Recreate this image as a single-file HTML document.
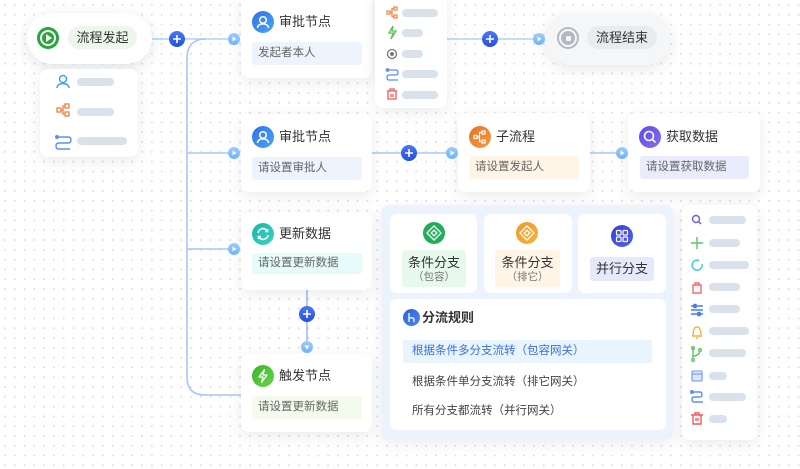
<!DOCTYPE html>
<html><head><meta charset="utf-8">
<style>
*{margin:0;padding:0;box-sizing:border-box}
html,body{width:800px;height:469px;overflow:hidden}
body{position:relative;background:#fff;background-image:radial-gradient(circle,#dcdee1 0.8px,transparent 1.1px);background-size:9.8px 9.8px;background-position:0px 0px;font-family:"Liberation Sans","Noto Sans CJK SC",sans-serif;color:#333}
.abs{position:absolute}
.card{position:absolute;background:#fff;border-radius:8px;box-shadow:0 4px 14px rgba(30,40,60,0.09)}
.ic{position:absolute;width:22px;height:22px;border-radius:50%}
.ttl{position:absolute;font-size:13px;color:#333;line-height:16px;white-space:nowrap}
.inp{position:absolute;border-radius:3px;font-size:11.5px;color:#666;line-height:23px;padding-left:6px;white-space:nowrap}
.bar{position:absolute;height:8px;border-radius:4px;background:#d9e2ea}
svg{position:absolute;left:0;top:0}
</style></head><body>

<svg width="800" height="469" style="z-index:1">
 <g fill="none" stroke-width="1.6">
  <path d="M150,39 H234" stroke="#a9d5fb"/>
  <path d="M206,39 C193,39 187,46 187,58 V377 Q187,395 205,395 H241" stroke="#a9c3fb"/>
  <path d="M187,153 H234" stroke="#a9c8fb"/>
  <path d="M187,249 H234" stroke="#a9c3fb"/>
  <path d="M447,39 H540" stroke="#a9d5fb"/>
  <path d="M372,153 H452" stroke="#a9c8fb"/>
  <path d="M590,153 H622" stroke="#a9c8fb"/>
  <path d="M307,290 V347" stroke="#a6b8fb"/>
 </g>
</svg>

<!-- start pill -->
<div class="card" style="left:27px;top:13px;width:125px;height:51px;border-radius:26px;box-shadow:0 4px 14px rgba(30,40,60,0.12);z-index:2">
  <div class="ic" style="left:10px;top:14px;background:#25a83a"></div>
  <div class="abs" style="left:13px;top:17px;width:16px;height:16px;border:2px solid #fff;border-radius:50%"></div>
  <div class="abs" style="left:19px;top:21px;width:0;height:0;border-left:6px solid #fff;border-top:4px solid transparent;border-bottom:4px solid transparent"></div>
  <div class="abs" style="left:41px;top:13px;width:69px;height:23px;border-radius:12px;background:#ecf6ea;font-size:13px;line-height:23px;text-align:center;color:#333">流程发起</div>
</div>
<!-- start menu -->
<div class="card" style="left:40px;top:69px;width:98px;height:88px;z-index:2">
  <svg width="98" height="88" style="position:absolute">
   <g fill="none" stroke-width="1.4">
    <circle cx="23" cy="10" r="3.5" stroke="#37a3f5"/><path d="M17,19 C17,13 29,13 29,19" stroke="#37a3f5"/>
    <g stroke="#f0884a"><rect x="17" y="39" width="4" height="4"/><rect x="25" y="35" width="4" height="4"/><rect x="25" y="43" width="4" height="4"/><path d="M21,41 H23 V37 H25 M23,41 V45 H25"/></g>
    <g stroke="#5a8ff5"><path d="M18,68 H28 Q31,68 31,71 Q31,74 28,74 H19 Q16,74 16,77 Q16,80 19,80 H30"/><circle cx="17" cy="68" r="1.3" fill="#5a8ff5"/></g>
   </g>
  </svg>
  <div class="bar" style="left:37px;top:9px;width:37px"></div>
  <div class="bar" style="left:37px;top:39px;width:37px"></div>
  <div class="bar" style="left:37px;top:68px;width:50px"></div>
</div>

<!-- card 1 -->
<div class="card" style="left:241px;top:-8px;width:131px;height:86px;z-index:2">
  <div class="ic" style="left:11px;top:19px;background:linear-gradient(135deg,#2f6fe8,#4aa6f6)"></div>
  <svg width="22" height="22" style="left:11px;top:19px"><g fill="none" stroke="#fff" stroke-width="1.5"><circle cx="11" cy="9" r="3.3"/><path d="M5.5,17 C5.5,11.5 16.5,11.5 16.5,17"/></g></svg>
  <div class="ttl" style="left:38px;top:22px">审批节点</div>
  <div class="inp" style="left:11px;top:50px;width:110px;background:#edf4fe">发起者本人</div>
</div>
<!-- card 2 -->
<div class="card" style="left:241px;top:114px;width:131px;height:78px;z-index:2">
  <div class="ic" style="left:11px;top:12px;background:linear-gradient(135deg,#2f6fe8,#4aa6f6)"></div>
  <svg width="22" height="22" style="left:11px;top:12px"><g fill="none" stroke="#fff" stroke-width="1.5"><circle cx="11" cy="9" r="3.3"/><path d="M5.5,17 C5.5,11.5 16.5,11.5 16.5,17"/></g></svg>
  <div class="ttl" style="left:38px;top:15px">审批节点</div>
  <div class="inp" style="left:11px;top:43px;width:110px;background:#edf4fe">请设置审批人</div>
</div>

<!-- top middle menu -->
<div class="card" style="left:375px;top:-8px;width:72px;height:116px;z-index:2">
  <svg width="72" height="116" style="position:absolute">
   <g fill="none" stroke-width="1.3" transform="translate(0,8)">
    <g stroke="#f0884a"><rect x="12" y="11" width="3" height="3"/><rect x="19" y="7" width="3" height="3"/><rect x="19" y="15" width="3" height="3"/><path d="M15,12.5 H17 V8.5 H19 M17,12.5 V16.5 H19"/></g>
    <path d="M18,26 L14,33 H18 L16,39 L21,31 H17 Z" stroke="#58c45a"/>
    <g stroke="#777"><circle cx="17" cy="54" r="4.5"/><circle cx="17" cy="54" r="1.3" fill="#777"/></g>
    <g stroke="#5a8ff5"><path d="M13,70 H21 Q23,70 23,72.5 Q23,75 21,75 H14 Q12,75 12,77.5 Q12,80 14,80 H23"/><circle cx="12.5" cy="70" r="1.2" fill="#5a8ff5"/></g>
    <g stroke="#ef5b5b"><path d="M12,91 H22 M15,91 V89 H19 V91 M13,91 V99 H21 V91 M16,94 V97 M18,94 V97"/></g>
   </g>
  </svg>
  <div class="bar" style="left:27px;top:17px;width:36px"></div>
  <div class="bar" style="left:27px;top:37px;width:21px"></div>
  <div class="bar" style="left:27px;top:58px;width:21px"></div>
  <div class="bar" style="left:27px;top:78px;width:36px"></div>
  <div class="bar" style="left:27px;top:99px;width:36px"></div>
</div>

<!-- end pill -->
<div class="card" style="left:545px;top:13px;width:126px;height:52px;border-radius:26px;background:#f4f6f8;box-shadow:0 4px 14px rgba(30,40,60,0.10);z-index:2">
  <div class="abs" style="left:12px;top:14px;width:22px;height:22px;border-radius:50%;border:2.5px solid #b4b9c0"></div>
  <div class="abs" style="left:16px;top:18px;width:14px;height:14px;border-radius:50%;background:#b4b9c0"></div>
  <div class="abs" style="left:20.5px;top:22.5px;width:5px;height:5px;background:#f4f6f8;border-radius:1px"></div>
  <div class="abs" style="left:42px;top:13px;width:70px;height:23px;border-radius:12px;background:#e8ebef;font-size:13px;line-height:23px;text-align:center;color:#333">流程结束</div>
</div>

<!-- 子流程 -->
<div class="card" style="left:458px;top:113px;width:132px;height:79px;z-index:2">
  <div class="ic" style="left:11px;top:13px;background:linear-gradient(135deg,#e8732a,#f39a3e)"></div>
  <svg width="22" height="22" style="left:11px;top:13px"><g fill="none" stroke="#fff" stroke-width="1.2"><rect x="5" y="9.5" width="3" height="3"/><rect x="13" y="5" width="3" height="3"/><rect x="13" y="14" width="3" height="3"/><path d="M8,11 H10.5 V6.5 H13 M10.5,11 V15.5 H13"/></g></svg>
  <div class="ttl" style="left:38px;top:16px">子流程</div>
  <div class="inp" style="left:11px;top:43px;width:110px;background:#fff4e6">请设置发起人</div>
</div>
<!-- 获取数据 -->
<div class="card" style="left:628px;top:113px;width:132px;height:79px;z-index:2">
  <div class="ic" style="left:11px;top:13px;background:linear-gradient(135deg,#5a4be6,#8a6cf0)"></div>
  <svg width="22" height="22" style="left:11px;top:13px"><g fill="none" stroke="#fff" stroke-width="1.6"><circle cx="10" cy="10" r="4.5"/><path d="M13.3,13.3 L16.5,16.5"/></g></svg>
  <div class="ttl" style="left:38px;top:16px">获取数据</div>
  <div class="inp" style="left:12px;top:43px;width:109px;background:#e9ecfd">请设置获取数据</div>
</div>

<!-- 更新数据 -->
<div class="card" style="left:241px;top:212px;width:131px;height:78px;z-index:2">
  <div class="ic" style="left:11px;top:11px;background:linear-gradient(135deg,#16b6a6,#3ed2c0)"></div>
  <svg width="22" height="22" style="left:11px;top:11px"><g fill="none" stroke="#fff" stroke-width="1.6"><path d="M6,10 A5,5 0 0 1 15.5,8.5"/><path d="M16,12 A5,5 0 0 1 6.5,13.5"/><path d="M15.5,6 V8.5 H13"/><path d="M6.5,16 V13.5 H9"/></g></svg>
  <div class="ttl" style="left:38px;top:14px">更新数据</div>
  <div class="inp" style="left:11px;top:41px;width:110px;height:21px;line-height:21px;background:#e8fbfb">请设置更新数据</div>
</div>
<!-- 触发节点 -->
<div class="card" style="left:241px;top:354px;width:131px;height:78px;z-index:2">
  <div class="ic" style="left:11px;top:11px;background:linear-gradient(135deg,#3ab526,#6bd24a)"></div>
  <svg width="22" height="22" style="left:11px;top:11px"><path d="M12.5,4.5 L7,12 H11 L9.5,17.5 L15,10 H11 Z" fill="none" stroke="#fff" stroke-width="1.3" stroke-linejoin="round"/></svg>
  <div class="ttl" style="left:38px;top:14px">触发节点</div>
  <div class="inp" style="left:11px;top:42px;width:110px;background:#f2fbec">请设置更新数据</div>
</div>

<!-- big panel -->
<div class="abs" style="left:381px;top:205px;width:292px;height:235px;background:#edf3fd;border-radius:8px;box-shadow:0 4px 14px rgba(30,40,60,0.08);z-index:2">
  <div class="abs" style="left:9px;top:9px;width:87px;height:79px;background:#fff;border-radius:7px">
    <div class="ic" style="left:33px;top:8px;background:#1fae5a"></div>
    <svg width="22" height="22" style="left:33px;top:8px"><g fill="none" stroke="#fff" stroke-width="1.3"><rect x="6" y="6" width="10" height="10" transform="rotate(45 11 11)"/><rect x="9" y="9" width="4" height="4" transform="rotate(45 11 11)"/></g></svg>
    <div class="abs" style="left:12px;top:36px;width:64px;height:37px;background:#e6f9ec;border-radius:3px;text-align:center">
      <div style="font-size:13px;line-height:15px;margin-top:5px;color:#333">条件分支</div>
      <div style="font-size:10.5px;line-height:14px;color:#777">（包容）</div>
    </div>
  </div>
  <div class="abs" style="left:103px;top:9px;width:88px;height:79px;background:#fff;border-radius:7px">
    <div class="ic" style="left:32px;top:8px;background:linear-gradient(135deg,#ef9a23,#f5b23b)"></div>
    <svg width="22" height="22" style="left:32px;top:8px"><g fill="none" stroke="#fff" stroke-width="1.3"><rect x="6" y="6" width="10" height="10" transform="rotate(45 11 11)"/><rect x="9" y="9" width="4" height="4" transform="rotate(45 11 11)"/></g></svg>
    <div class="abs" style="left:11px;top:36px;width:65px;height:37px;background:#fff4e6;border-radius:3px;text-align:center">
      <div style="font-size:13px;line-height:15px;margin-top:5px;color:#333">条件分支</div>
      <div style="font-size:10.5px;line-height:14px;color:#777">（排它）</div>
    </div>
  </div>
  <div class="abs" style="left:197px;top:9px;width:88px;height:79px;background:#fff;border-radius:7px">
    <div class="ic" style="left:33px;top:11px;background:linear-gradient(135deg,#3342d8,#5160ea)"></div>
    <svg width="22" height="22" style="left:33px;top:11px"><g fill="none" stroke="#fff" stroke-width="1.2"><rect x="5.5" y="5.5" width="4.5" height="4.5" rx="1"/><rect x="12" y="5.5" width="4.5" height="4.5" rx="1"/><rect x="5.5" y="12" width="4.5" height="4.5" rx="1"/><rect x="12" y="12" width="4.5" height="4.5" rx="1"/></g></svg>
    <div class="abs" style="left:12px;top:43px;width:64px;height:24px;background:#e6e9fb;border-radius:3px;text-align:center;font-size:13px;line-height:24px;color:#333">并行分支</div>
  </div>
  <div class="abs" style="left:9px;top:94px;width:276px;height:131px;background:#fff;border-radius:7px">
    <div class="ic" style="left:13px;top:10px;width:17px;height:17px;background:linear-gradient(135deg,#2f5fe0,#4b86f2)"></div>
    <svg width="17" height="17" style="left:13px;top:10px"><g fill="none" stroke="#fff" stroke-width="1.3"><path d="M6,4 V13 M6,9 Q11,8 11,11 V13"/></g></svg>
    <div class="abs" style="left:32px;top:11px;font-size:13px;font-weight:bold;line-height:16px;color:#333">分流规则</div>
    <div class="abs" style="left:13px;top:41px;width:249px;height:23px;background:#e8f4fe;border-radius:2px;font-size:11.5px;line-height:23px;color:#3d6fe0;padding-left:9px">根据条件多分支流转（包容网关）</div>
    <div class="abs" style="left:22px;top:75px;font-size:11.5px;line-height:16px;color:#444">根据条件单分支流转（排它网关）</div>
    <div class="abs" style="left:22px;top:104px;font-size:11.5px;line-height:16px;color:#444">所有分支都流转（并行网关）</div>
  </div>
</div>

<!-- right menu -->
<div class="card" style="left:682px;top:205px;width:75px;height:235px;z-index:2">
  <svg width="75" height="235" style="position:absolute">
   <g fill="none" stroke-width="1.4">
    <g stroke="#6a5be6"><circle cx="14" cy="14" r="3.5"/><path d="M16.5,16.5 L19,19"/></g>
    <path d="M15,32 V44 M9,38 H21" stroke="#5cc46a"/>
    <path d="M17,55.5 A5,5 0 1 0 20,59" stroke="#3ad0c0"/>
    <g stroke="#ef6b6b"><path d="M11,80 H19 V88 H11 Z M13,80 V78 H17 V80"/></g>
    <g stroke="#4a78f0"><path d="M9,101 H21 M9,105 H21 M9,109 H21"/><rect x="12" y="99.5" width="2" height="3" fill="#4a78f0"/><rect x="16" y="107.5" width="2" height="3" fill="#4a78f0"/></g>
    <path d="M11,131 Q11,122 15,122 Q19,122 19,131 H10 H20 M14,133 H16" stroke="#f5b341"/>
    <g stroke="#5cc46a"><path d="M11,143 V154 M11,151 Q17,151 18,146"/><circle cx="11" cy="143" r="1.3"/><circle cx="18" cy="145" r="1.3"/><circle cx="11" cy="155" r="1.3"/></g>
    <g stroke="#6a98f5" stroke-width="1.1"><rect x="10" y="166" width="10" height="10" rx="1" fill="#dbe7fd"/><path d="M10,169 H20"/></g>
    <g stroke="#5a8ff5"><path d="M10,187 H18 Q20,187 20,189.5 Q20,192 18,192 H12 Q10,192 10,194.5 Q10,197 12,197 H21"/><circle cx="10" cy="187" r="1.3" fill="#5a8ff5"/></g>
    <g stroke="#ef5b5b"><path d="M9,210 H21 M13,210 V208 H17 V210 M11,210 V219 H19 V210 M14,213 V216 M16,213 V216"/></g>
   </g>
  </svg>
  <div class="bar" style="left:27px;top:11px;width:37px"></div>
  <div class="bar" style="left:27px;top:34px;width:31px"></div>
  <div class="bar" style="left:27px;top:56px;width:40px"></div>
  <div class="bar" style="left:27px;top:78px;width:31px"></div>
  <div class="bar" style="left:27px;top:100px;width:31px"></div>
  <div class="bar" style="left:27px;top:122px;width:40px"></div>
  <div class="bar" style="left:27px;top:144px;width:37px"></div>
  <div class="bar" style="left:27px;top:167px;width:18px"></div>
  <div class="bar" style="left:27px;top:188px;width:37px"></div>
  <div class="bar" style="left:27px;top:210px;width:18px"></div>
</div>

<!-- plus and arrow dots -->
<svg width="800" height="469" style="z-index:3">
 <defs>
  <linearGradient id="pg" x1="0" y1="0" x2="0" y2="1"><stop offset="0" stop-color="#4a78f2"/><stop offset="1" stop-color="#2450e0"/></linearGradient>
  <linearGradient id="ag" x1="0" y1="0" x2="0" y2="1"><stop offset="0" stop-color="#9ccdfc"/><stop offset="1" stop-color="#6fb2fa"/></linearGradient>
 </defs>
 <g>
  <g transform="translate(177,39)"><circle r="8" fill="url(#pg)"/><path d="M-4,0 H4 M0,-4 V4" stroke="#fff" stroke-width="1.6"/></g>
  <g transform="translate(490,39)"><circle r="8" fill="url(#pg)"/><path d="M-4,0 H4 M0,-4 V4" stroke="#fff" stroke-width="1.6"/></g>
  <g transform="translate(409,153)"><circle r="8" fill="url(#pg)"/><path d="M-4,0 H4 M0,-4 V4" stroke="#fff" stroke-width="1.6"/></g>
  <g transform="translate(307,314)"><circle r="8" fill="url(#pg)"/><path d="M-4,0 H4 M0,-4 V4" stroke="#fff" stroke-width="1.6"/></g>
 </g>
 <g>
  <g transform="translate(234,39)"><circle r="6" fill="url(#ag)"/><path d="M-1.5,-2.5 L2.5,0 L-1.5,2.5 Z" fill="#fff"/></g>
  <g transform="translate(539,39)"><circle r="6" fill="url(#ag)"/><path d="M-1.5,-2.5 L2.5,0 L-1.5,2.5 Z" fill="#fff"/></g>
  <g transform="translate(234,153)"><circle r="6" fill="url(#ag)"/><path d="M-1.5,-2.5 L2.5,0 L-1.5,2.5 Z" fill="#fff"/></g>
  <g transform="translate(452,153)"><circle r="6" fill="url(#ag)"/><path d="M-1.5,-2.5 L2.5,0 L-1.5,2.5 Z" fill="#fff"/></g>
  <g transform="translate(622,153)"><circle r="6" fill="url(#ag)"/><path d="M-1.5,-2.5 L2.5,0 L-1.5,2.5 Z" fill="#fff"/></g>
  <g transform="translate(234,249)"><circle r="6" fill="url(#ag)"/><path d="M-1.5,-2.5 L2.5,0 L-1.5,2.5 Z" fill="#fff"/></g>
  <g transform="translate(307,347)"><circle r="6" fill="url(#ag)"/><path d="M-2.5,-1.5 L0,2.5 L2.5,-1.5 Z" fill="#fff"/></g>
 </g>
</svg>
</body></html>
